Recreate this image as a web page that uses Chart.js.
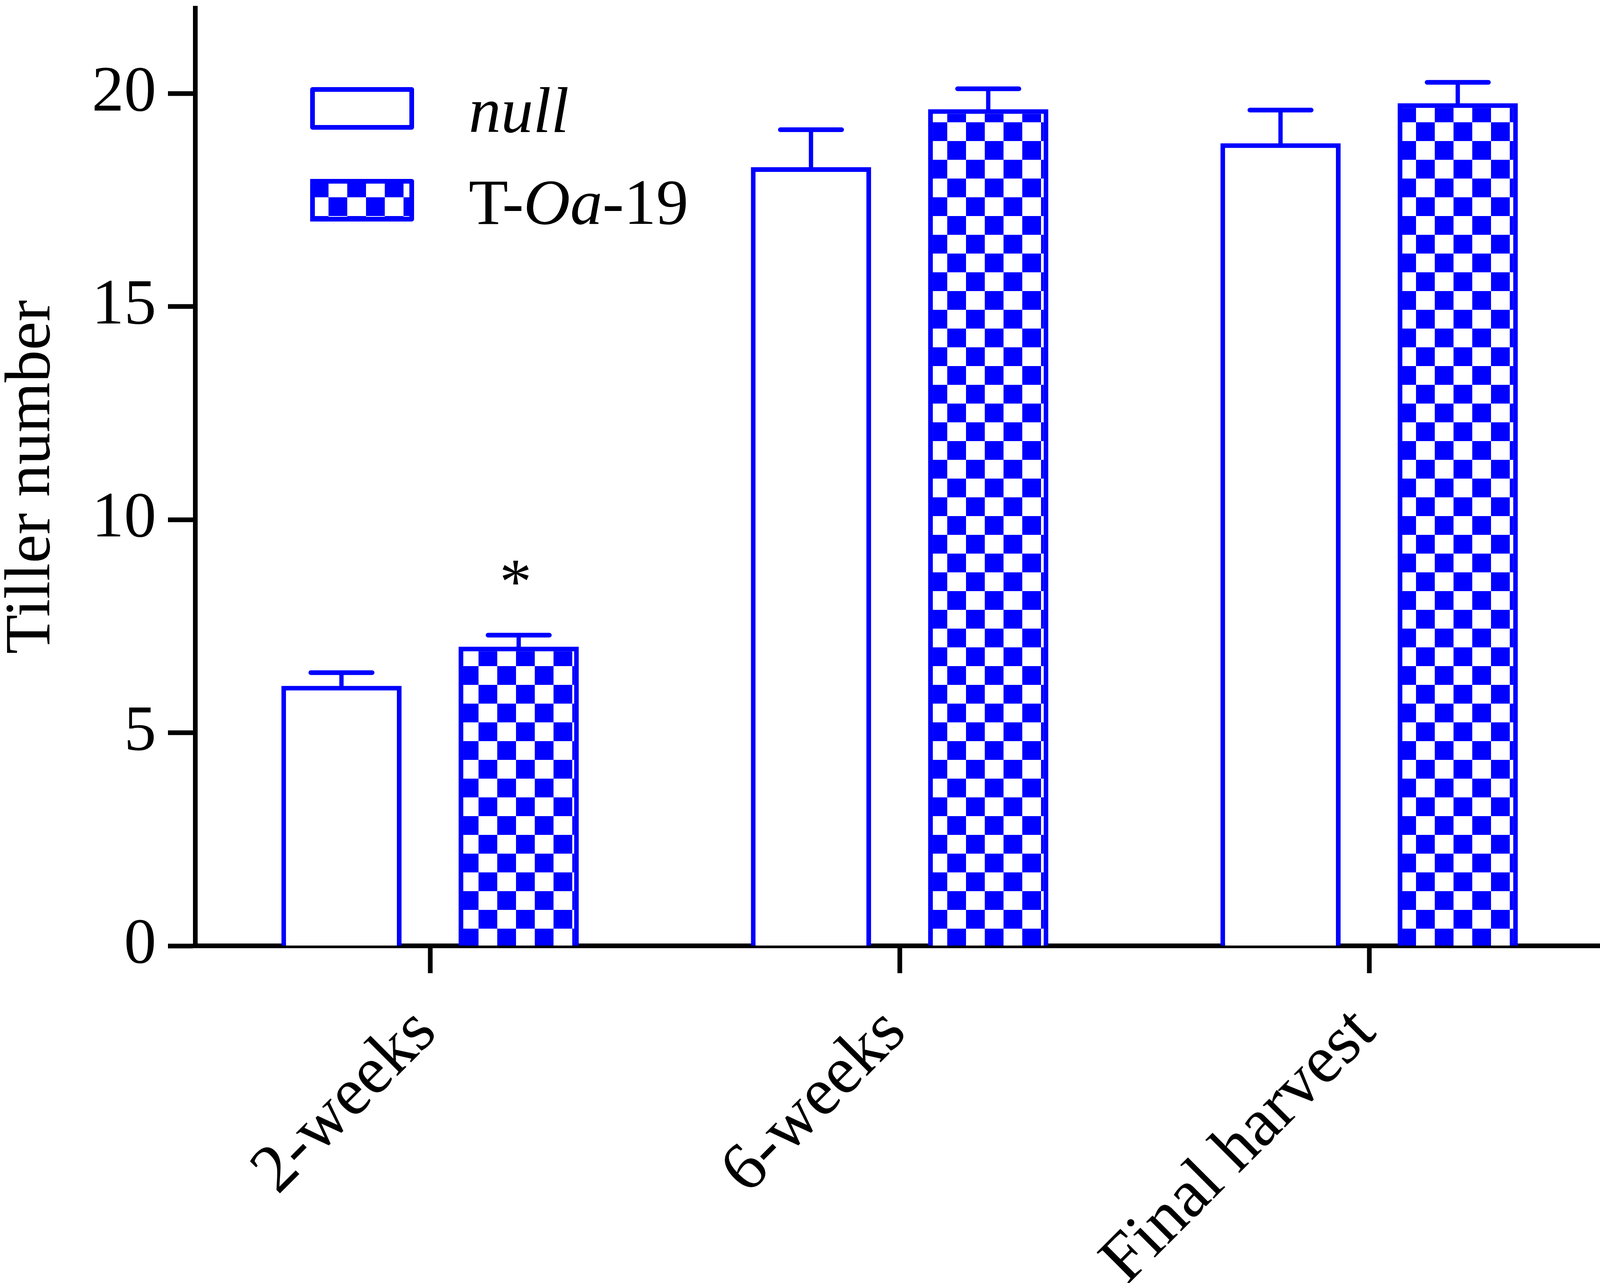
<!DOCTYPE html>
<html>
<head>
<meta charset="utf-8">
<title>Tiller number</title>
<script src="https://cdn.jsdelivr.net/npm/chart.js@4.4.1/dist/chart.umd.min.js"></script>
<style>
html, body { margin: 0; padding: 0; background: #fff; }
canvas { display: block; }
</style>
</head>
<body>
<canvas id="tillerChart" width="4132" height="3284" style="width:4132px;height:3284px"></canvas>
<script>
// Data
const categories = ["2-weeks", "6-weeks", "Final harvest"];
const seriesNames = ["null", "T-Oa-19"];
const nullValues = [6.1, 18.27, 18.83];
const nullErrors = [0.31, 0.88, 0.78];
const toaValues = [7.02, 19.63, 19.77];
const toaErrors = [0.27, 0.48, 0.49];
const toaMarks = ["*", "", ""];
const yTicks = [0, 5, 10, 15, 20];
// legend text pieces: [text, italic]
const legendParts = [
    [["null", true]],
    [["T-", false], ["Oa", true], ["-19", false]]
];

const BLUE = "#0000ff";
const FONT = "'Liberation Serif', 'Times New Roman', serif";
const canvas = document.getElementById("tillerChart");

// Checkerboard fill for the transgenic line
function checkerPattern() {
    const tile = document.createElement("canvas");
    tile.width = 96;
    tile.height = 96;
    const t = tile.getContext("2d");
    t.fillStyle = "#fff";
    t.fillRect(0, 0, 96, 96);
    t.fillStyle = BLUE;
    t.fillRect(48, 0, 48, 48);
    t.fillRect(0, 48, 48, 48);
    const p = canvas.getContext("2d").createPattern(tile, "repeat");
    p.setTransform(new DOMMatrix().translate(25, 25));
    return p;
}

// Upper error bars + significance marks
const errorBars = {
    id: "errorBars",
    afterDatasetsDraw(chart) {
        const ctx = chart.ctx;
        const yScale = chart.scales.y;
        ctx.save();
        ctx.strokeStyle = BLUE;
        ctx.lineCap = "round";
        chart.data.datasets.forEach((ds, di) => {
            const meta = chart.getDatasetMeta(di);
            meta.data.forEach((bar, i) => {
                const top = yScale.getPixelForValue(ds.data[i] + ds.errors[i]);
                const half = bar.width * 0.255;
                ctx.lineWidth = 11;
                ctx.beginPath();
                ctx.moveTo(bar.x, bar.y + 6);
                ctx.lineTo(bar.x, top);
                ctx.stroke();
                ctx.lineWidth = 12;
                ctx.beginPath();
                ctx.moveTo(bar.x - half, top);
                ctx.lineTo(bar.x + half, top);
                ctx.stroke();
                if (ds.marks && ds.marks[i]) {
                    ctx.fillStyle = "#000";
                    ctx.font = "165px " + FONT;
                    ctx.textAlign = "center";
                    ctx.textBaseline = "alphabetic";
                    ctx.fillText(ds.marks[i], bar.x - 8, top - 82);
                }
            });
        });
        ctx.restore();
    }
};

// Legend with italic pieces
const legendBoxes = {
    id: "legendBoxes",
    afterDraw(chart) {
        const ctx = chart.ctx;
        const area = chart.chartArea;
        const boxX = area.left + 294;
        const boxW = 266, boxH = 109;
        const rowTop = [area.top + 202, area.top + 437];
        ctx.save();
        chart.data.datasets.forEach((ds, di) => {
            const yTop = rowTop[di];
            ctx.fillStyle = ds.backgroundColor;
            ctx.fillRect(boxX, yTop, boxW, boxH);
            ctx.strokeStyle = BLUE;
            ctx.lineWidth = 12;
            ctx.lineJoin = "round";
            ctx.strokeRect(boxX + 6, yTop + 6, boxW - 12, boxH - 12);
            let tx = boxX + 406;
            const base = yTop + 115;
            ctx.fillStyle = "#000";
            ctx.textBaseline = "alphabetic";
            ctx.textAlign = "left";
            legendParts[di].forEach(([txt, italic]) => {
                ctx.font = (italic ? "italic " : "") + "165px " + FONT;
                ctx.fillText(txt, tx, base);
                tx += ctx.measureText(txt).width;
            });
        });
        ctx.restore();
    }
};

new Chart(canvas, {
    type: "bar",
    data: {
        labels: categories,
        datasets: [
            {
                label: seriesNames[0],
                data: nullValues,
                errors: nullErrors,
                backgroundColor: "#ffffff",
                borderColor: BLUE,
                borderWidth: 12
            },
            {
                label: seriesNames[1],
                data: toaValues,
                errors: toaErrors,
                marks: toaMarks,
                backgroundColor: checkerPattern(),
                borderColor: BLUE,
                borderWidth: 12
            }
        ]
    },
    options: {
        responsive: false,
        devicePixelRatio: 1,
        animation: false,
        categoryPercentage: 0.755,
        barPercentage: 0.678,
        layout: { padding: { top: 21, right: 26, left: 0, bottom: 0 } },
        plugins: {
            legend: { display: false },
            tooltip: { enabled: false }
        },
        scales: {
            x: {
                grid: { offset: false, drawOnChartArea: false, tickLength: 70, tickWidth: 12, tickColor: "#000" },
                border: { color: "#000", width: 12 },
                ticks: {
                    autoSkip: false,
                    minRotation: 45,
                    maxRotation: 45,
                    padding: 50,
                    labelOffset: -10,
                    color: "#000",
                    font: { family: FONT, size: 175 }
                },
                afterFit(scale) {
                    scale.height = 863;
                    scale.paddingLeft = 0;
                    scale.paddingRight = 0;
                }
            },
            y: {
                min: 0,
                max: 22,
                grid: { drawOnChartArea: false, tickLength: 70, tickWidth: 12, tickColor: "#000" },
                border: { color: "#000", width: 12 },
                ticks: {
                    padding: 30,
                    color: "#000",
                    font: { family: FONT, size: 165 }
                },
                title: {
                    display: true,
                    text: "Tiller number",
                    color: "#000",
                    padding: 0,
                    font: { family: FONT, size: 165, lineHeight: 1 }
                },
                afterBuildTicks(scale) {
                    scale.ticks = yTicks.map(v => ({ value: v }));
                },
                afterFit(scale) {
                    scale.width = 500;
                    scale.paddingTop = 0;
                    scale.paddingBottom = 0;
                }
            }
        }
    },
    plugins: [errorBars, legendBoxes]
});
</script>
</body>
</html>
